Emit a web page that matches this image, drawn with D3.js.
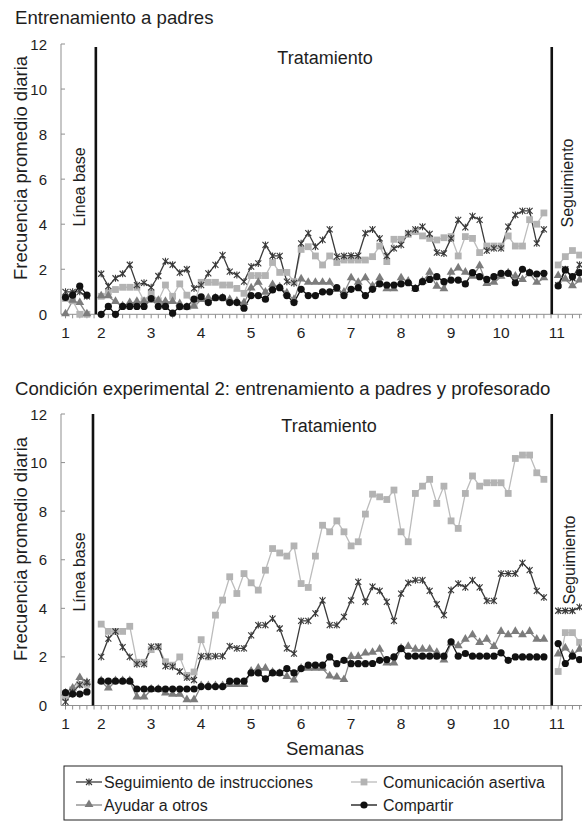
<!DOCTYPE html>
<html>
<head>
<meta charset="utf-8">
<script src="https://cdn.jsdelivr.net/npm/d3@7/dist/d3.min.js"></script>
<style>
body{margin:0;background:#fff;}
text{font-family:"Liberation Sans",Arial,Helvetica,sans-serif;fill:#1e1e1e;}
</style>
</head>
<body>
<svg id="chart" width="582" height="822"></svg>
<script>
// ejes
var weekLabels = ["1","2","3","4","5","6","7","8","9","10","11"];
var weekDays = [0,5,12,19,26,33,40,47,54,61,68.8];
var yTicks = [0,2,4,6,8,10,12];
var seriesNames = ["Seguimiento de instrucciones","Comunicación asertiva","Ayudar a otros","Compartir"];

// panel 1: entrenamiento a padres (dias 0-3 linea base, 5-67 tratamiento, 69-72 seguimiento)
var padresSeguimiento = [1.0,1.0,1.0,0.8, null,
  1.8,1.25,1.6,1.8,2.2,1.3,1.4,1.2,1.7,2.35,2.2,1.85,2.0,1.15,
  1.3,1.82,2.19,2.63,1.89,1.75,1.45,2.12,2.26,3.08,2.59,2.59,1.45,1.38,3.15,3.6,3.0,3.3,3.77,2.56,2.59,2.6,2.6,3.6,
  3.77,3.37,2.59,2.93,3.08,3.6,3.77,3.89,3.57,2.74,2.7,3.37,4.19,3.86,4.36,4.19,2.83,2.93,2.93,3.89,4.41,4.59,4.59,3.15,3.77,
  null, 1.3,2.0,1.6,2.2];
var padresComunicacion = [0.7,0.6,0.0,0.0, null,
  0.8,1.0,1.1,1.2,1.2,1.2,0.6,0.95,0.6,1.3,0.8,1.35,0.85,0.45,
  1.42,1.42,1.42,1.3,1.3,1.15,0.93,1.72,1.72,1.72,2.3,1.86,1.86,1.45,2.88,3.0,2.59,2.19,2.59,2.3,2.41,2.41,2.41,2.41,
  2.56,3.03,2.34,3.33,3.33,3.55,3.67,3.48,3.37,3.3,3.4,3.45,2.59,3.45,3.37,2.74,3.03,3.03,3.03,3.48,3.03,3.03,4.2,4.0,4.5,
  null, 2.19,2.56,2.83,2.63];
var padresAyudar = [0.0,0.6,0.5,0.0, null,
  0.8,0.8,0.55,0.35,0.5,0.55,0.55,0.6,0.6,0.55,0.55,0.45,0.3,0.34,
  0.64,0.71,0.71,0.71,0.64,0.56,0.5,1.15,1.4,0.96,1.3,1.2,0.93,0.64,1.55,1.4,1.4,1.4,1.4,1.08,0.96,1.6,1.4,1.6,
  1.23,1.6,1.11,1.11,1.6,1.45,1.11,1.45,1.85,1.23,1.11,1.85,2.04,1.85,1.67,2.14,1.35,1.4,1.67,1.82,1.67,1.52,1.82,1.4,1.6,
  null, 1.7,1.55,1.25,1.5];
var padresCompartir = [0.75,0.85,1.25,0.85, null,
  0.0,0.35,0.0,0.35,0.35,0.35,0.35,0.7,0.35,0.35,0.05,0.34,0.34,0.67,
  0.78,0.52,0.74,0.74,0.52,0.52,0.27,0.83,0.83,0.67,1.08,1.18,0.83,0.52,1.11,0.83,0.83,1.0,1.0,1.18,0.83,1.11,1.18,0.83,
  1.11,1.35,1.3,1.3,1.35,1.4,1.15,1.45,1.55,1.67,1.45,1.52,1.52,1.35,1.85,1.67,1.55,1.67,1.82,1.82,1.4,2.0,1.85,1.79,1.82,
  null, 1.26,1.97,1.67,1.85];

// panel 2: padres y profesorado
var profSeguimiento = [0.15,0.55,0.85,0.95, null,
  2.0,2.75,3.05,2.4,2.0,1.7,1.7,2.42,2.42,1.62,1.6,1.4,1.15,1.05,
  2.03,2.03,2.03,2.03,2.44,2.35,2.35,2.89,3.31,3.31,3.58,3.17,2.35,2.14,3.48,3.48,3.79,4.33,3.31,3.31,3.65,4.33,5.09,4.27,
  4.89,4.72,4.27,3.48,4.61,5.05,5.16,5.16,4.72,4.17,3.72,4.75,5.02,4.86,5.16,4.86,4.31,4.31,5.43,5.43,5.43,5.87,5.57,4.72,4.45,
  null, 3.9,3.9,3.9,4.05];
var profComunicacion = [0.33,0.64,0.87,0.87, null,
  3.35,3.05,3.05,3.05,3.26,1.78,1.78,2.3,2.42,1.8,1.66,2.0,1.24,1.38,
  2.71,2.0,3.72,4.34,5.3,4.61,5.43,5.05,4.75,5.57,6.46,6.28,6.15,6.57,5.02,4.86,6.15,7.42,7.15,7.6,7.15,6.57,6.74,7.88,
  8.7,8.59,8.48,8.87,7.15,6.74,8.73,9.03,9.31,8.32,9.03,7.6,7.29,8.73,9.45,9.03,9.17,9.17,9.17,8.73,10.17,10.31,10.31,9.58,9.31,
  null, 1.4,3.0,3.0,2.6];
var profAyudar = [0.5,0.7,1.13,0.93, null,
  1.0,0.7,1.0,1.0,1.0,0.33,0.33,0.65,0.65,0.5,0.45,0.45,0.22,0.22,
  0.8,0.8,0.8,0.8,0.85,0.85,0.85,1.4,1.52,1.52,1.35,1.3,1.18,1.03,1.52,1.52,1.52,1.52,1.2,1.15,1.05,2.0,2.0,2.14,
  2.17,2.3,1.73,1.73,2.34,2.41,2.3,2.3,2.3,2.17,1.86,2.55,2.44,2.71,2.89,2.58,2.71,2.41,3.03,2.89,3.03,2.89,3.03,2.71,2.71,
  null, 2.1,2.35,2.1,2.3];
var profCompartir = [0.53,0.47,0.47,0.56, null,
  1.0,1.0,1.0,1.0,1.0,0.68,0.68,0.68,0.68,0.68,0.68,0.68,0.68,0.68,
  0.78,0.78,0.78,0.78,1.0,1.0,1.0,1.34,1.34,1.1,1.34,1.34,1.52,1.34,1.52,1.66,1.66,1.66,2.0,1.72,1.86,1.72,1.72,1.72,
  1.73,1.86,1.89,2.0,2.34,2.03,2.03,2.03,2.03,2.03,2.03,2.62,2.03,2.14,2.03,2.03,2.03,2.03,2.17,1.86,2.0,2.0,2.0,2.0,2.0,
  null, 2.55,1.73,2.03,1.89];

var lineColor = ["#3a3a3a","#bcbcbc","#878787","#111111"];
var fillColor = ["#3a3a3a","#b3b3b3","#7c7c7c","#111111"];
var svg = d3.select("#chart");
var x = d3.scaleLinear().domain([0,72]).range([65.5,579.6]);
var axisColor = "#8f8f8f";

function drawMarker(g, k, cx, cy)
{
	if(k==0)//estrella
	{
		g.append("path").attr("d","M"+(cx-3)+","+(cy-3)+"L"+(cx+3)+","+(cy+3)+"M"+(cx-3)+","+(cy+3)+"L"+(cx+3)+","+(cy-3)+"M"+cx+","+(cy-3.5)+"L"+cx+","+(cy+3.5))
			.attr("stroke",fillColor[0]).attr("stroke-width",1.1).attr("fill","none");
	}
	else if(k==1)
		g.append("rect").attr("x",cx-3.4).attr("y",cy-3.4).attr("width",6.8).attr("height",6.8).attr("fill",fillColor[1]);
	else if(k==2)
		g.append("path").attr("d",d3.symbol().type(d3.symbolTriangle).size(34)()).attr("transform","translate("+cx+","+(cy-0.5)+")").attr("fill",fillColor[2]);
	else
		g.append("circle").attr("cx",cx).attr("cy",cy).attr("r",3.6).attr("fill",fillColor[3]);
}

function drawPanel(p)
{
	var y = d3.scaleLinear().domain([0,12]).range(p.yRange);
	var g = svg.append("g");

	// eje y
	g.append("line").attr("x1",61).attr("x2",61).attr("y1",y(12)).attr("y2",y(0)).attr("stroke",axisColor);
	yTicks.forEach(function(t){
		g.append("line").attr("x1",61).attr("x2",65).attr("y1",y(t)).attr("y2",y(t)).attr("stroke",axisColor);
		g.append("text").text(t).attr("x",47).attr("y",y(t)).attr("text-anchor","end").attr("dominant-baseline","central").attr("font-size",15);
	});
	// eje x
	g.append("line").attr("x1",61).attr("x2",582).attr("y1",y(0)).attr("y2",y(0)).attr("stroke",axisColor);
	d3.range(0,73).forEach(function(d){
		g.append("line").attr("x1",x(d)).attr("x2",x(d)).attr("y1",y(0)).attr("y2",y(0)+4).attr("stroke",axisColor);
	});
	weekLabels.forEach(function(w,i){
		g.append("text").text(w).attr("x",x(weekDays[i])).attr("y",y(0)+18).attr("text-anchor","middle").attr("dominant-baseline","central").attr("font-size",15.5);
	});

	// lineas de fase
	p.phases.forEach(function(d){
		g.append("line").attr("x1",x(d)).attr("x2",x(d)).attr("y1",p.phaseTop).attr("y2",y(0)).attr("stroke","#111").attr("stroke-width",2.6);
	});

	// series
	var order = [1,2,0,3];
	order.forEach(function(k){
		var data = p.series[k];
		var line = d3.line().defined(function(v){return v!=null;}).x(function(v,i){return x(i);}).y(function(v){return y(v);});
		g.append("path").attr("d",line(data)).attr("fill","none").attr("stroke",lineColor[k]).attr("stroke-width",1.3);
	});
	order.forEach(function(k){
		p.series[k].forEach(function(v,i){
			if(v!=null) drawMarker(g,k,x(i),y(v));
		});
	});

	// textos
	svg.append("text").text(p.title).attr("x",15).attr("y",p.titleY).attr("font-size",18.6);
	svg.append("text").text("Tratamiento").attr("x",p.tratX).attr("y",p.tratY).attr("text-anchor","middle").attr("dominant-baseline","central").attr("font-size",18);
	svg.append("text").text("Frecuencia promedio diaria").attr("transform","translate(20,"+p.yTitleY+") rotate(-90)").attr("text-anchor","middle").attr("dominant-baseline","central").attr("font-size",18.5);
	svg.append("text").text("Línea base").attr("transform","translate(79,"+p.baseY+") rotate(-90)").attr("text-anchor","middle").attr("dominant-baseline","central").attr("font-size",16);
	svg.append("text").text("Seguimiento").attr("transform","translate("+p.segX+","+p.segY+") rotate(-90)").attr("text-anchor","middle").attr("dominant-baseline","central").attr("font-size",16);
}

drawPanel({
	title:"Entrenamiento a padres", titleY:24,
	yRange:[314.3,44], phases:[4.25,68.1], phaseTop:47,
	series:[padresSeguimiento,padresComunicacion,padresAyudar,padresCompartir],
	tratX:325, tratY:58, yTitleY:168, baseY:187, segX:567, segY:183
});
drawPanel({
	title:"Condición experimental 2: entrenamiento a padres y profesorado", titleY:395,
	yRange:[705.5,414], phases:[3.85,68.1], phaseTop:414,
	series:[profSeguimiento,profComunicacion,profAyudar,profCompartir],
	tratX:329, tratY:426, yTitleY:549, baseY:572, segX:569, segY:560
});

svg.append("text").text("Semanas").attr("x",325).attr("y",748).attr("text-anchor","middle").attr("dominant-baseline","central").attr("font-size",18.5);

// leyenda
var legend = svg.append("g");
legend.append("rect").attr("x",64).attr("y",766).attr("width",498).attr("height",54).attr("fill","none").attr("stroke","#222").attr("stroke-width",1);
var legX = [76,76,351,351];
var legY = [782,805,782,805];
var legIdx = [0,2,1,3];
legIdx.forEach(function(k,i){
	legend.append("line").attr("x1",legX[i]).attr("x2",legX[i]+26).attr("y1",legY[i]).attr("y2",legY[i]).attr("stroke",lineColor[k]).attr("stroke-width",1.3);
	drawMarker(legend,k,legX[i]+13,legY[i]);
	legend.append("text").text(seriesNames[k]).attr("x",legX[i]+(i<2?28:32)).attr("y",legY[i]).attr("dominant-baseline","central").attr("font-size",16);
});
</script>
</body>
</html>
